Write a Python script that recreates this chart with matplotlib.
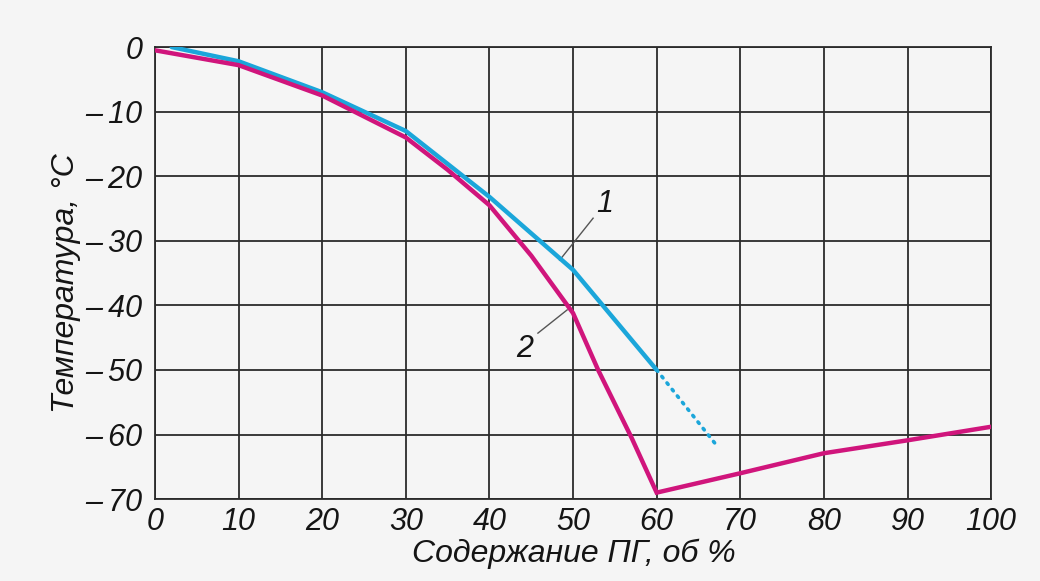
#!/usr/bin/env python3
"""Freezing temperature vs. antifreeze content, two curves."""
import matplotlib
matplotlib.use("Agg")
import matplotlib.pyplot as plt
from matplotlib.ticker import FuncFormatter

# curve 1 (solid part + dotted extrapolation)
x1 = [2, 10, 20, 30, 40, 50, 60]
t1 = [0, -2.2, -7, -13, -23.2, -34.5, -50]
x1_dot = [60, 67.3]
t1_dot = [-50, -61.9]

# curve 2
x2 = [0, 10, 20, 30, 35, 40, 45, 50, 53, 57, 60, 70, 80, 90, 100]
t2 = [-0.5, -2.8, -7.5, -14, -19, -24.5, -32.3, -41.2, -50, -60.5, -69, -66, -62.9, -60.9, -58.8]

x_ticks = list(range(0, 101, 10))
y_ticks = list(range(-70, 1, 10))

BLUE = "#1ba6da"
MAGENTA = "#d0157c"
GRID = "#2b2b2b"
BG = "#f5f5f5"
INK = "#151515"
FONT = "Liberation Sans"
FS = 22

fig = plt.figure(figsize=(10.4, 5.81), dpi=100, facecolor=BG)
ax = fig.add_axes([0.149, 0.141, 0.804, 0.778], facecolor=BG)

ax.plot(x1, t1, color=BLUE, lw=3.2, solid_capstyle="round", zorder=3)
ax.plot(x1_dot, t1_dot, color=BLUE, lw=2.6, ls=(0, (0.5, 1.8)), dash_capstyle="round", zorder=3)
ax.plot(x2, t2, color=MAGENTA, lw=3.2, solid_joinstyle="miter", zorder=4)

ax.set_xlim(0, 100)
ax.set_ylim(-70, 0)
ax.set_xticks(x_ticks)
ax.set_yticks(y_ticks)
ax.grid(True, color=GRID, lw=1.3)
ax.set_axisbelow(True)
for sp in ax.spines.values():
    sp.set_color(GRID)
    sp.set_linewidth(1.3)
ax.tick_params(axis="x", length=0, pad=6)
ax.tick_params(axis="y", length=0, pad=9)

# long dash + thin gap, as in the printed figure
ax.yaxis.set_major_formatter(FuncFormatter(lambda v, _: "0" if v == 0 else f"\u2013\u2009{abs(int(v))}"))
for lab in ax.get_xticklabels() + ax.get_yticklabels():
    lab.set_fontfamily(FONT)
    lab.set_fontstyle("italic")
    lab.set_fontsize(FS)
    lab.set_color(INK)

# leader lines with curve numbers
ax.plot([48.4, 52.4], [-33, -26.5], color="#555555", lw=1)
ax.plot([49.3, 45.8], [-40.7, -44.3], color="#555555", lw=1)
ax.text(53.8, -24.3, "1", fontsize=FS, fontstyle="italic", family=FONT, ha="center", va="center", color=INK)
ax.text(44.2, -46.8, "2", fontsize=FS, fontstyle="italic", family=FONT, ha="center", va="center", color=INK)

fig.text(0.552, 0.046, "Содержание ПГ, об %", fontsize=FS + 1, fontstyle="italic", family=FONT,
         ha="center", va="center", color=INK)
fig.text(0.063, 0.513, "Температура, °C", fontsize=FS + 1, fontstyle="italic", family=FONT,
         ha="center", va="center", rotation=90, color=INK)

fig.savefig("out.png", dpi=100, facecolor=BG)
